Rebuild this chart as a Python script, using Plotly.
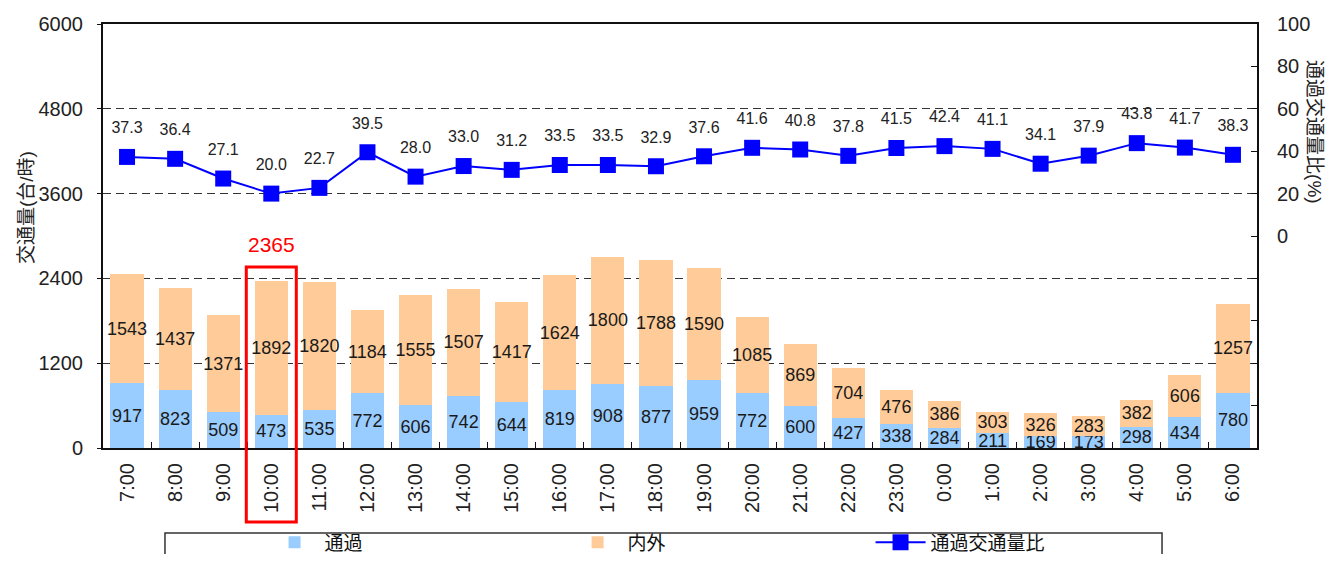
import plotly.graph_objects as go

# data
hours = ["7:00", "8:00", "9:00", "10:00", "11:00", "12:00", "13:00", "14:00",
         "15:00", "16:00", "17:00", "18:00", "19:00", "20:00", "21:00", "22:00",
         "23:00", "0:00", "1:00", "2:00", "3:00", "4:00", "5:00", "6:00"]
through = [917, 823, 509, 473, 535, 772, 606, 742, 644, 819, 908, 877,
           959, 772, 600, 427, 338, 284, 211, 169, 173, 298, 434, 780]
inout = [1543, 1437, 1371, 1892, 1820, 1184, 1555, 1507, 1417, 1624, 1800, 1788,
         1590, 1085, 869, 704, 476, 386, 303, 326, 283, 382, 606, 1257]
ratio = [37.3, 36.4, 27.1, 20.0, 22.7, 39.5, 28.0, 33.0, 31.2, 33.5, 33.5, 32.9,
         37.6, 41.6, 40.8, 37.8, 41.5, 42.4, 41.1, 34.1, 37.9, 43.8, 41.7, 38.3]

highlight = "10:00"
hi_idx = hours.index(highlight)
hi_total = through[hi_idx] + inout[hi_idx]

FONT = "Liberation Sans, Noto Sans CJK JP, sans-serif"
BLUE_BAR = "#99CCFF"
ORANGE_BAR = "#FFCC99"

fig = go.Figure()

fig.add_trace(go.Bar(
    name="通過",
    x=hours, y=through,
    marker=dict(color=BLUE_BAR, line=dict(width=0)),
    text=[str(v) for v in through],
    textposition="inside",
    insidetextanchor="middle",
    constraintext="none",
    textangle=0,
    textfont=dict(family=FONT, size=18, color="#1a1a1a"),
))
fig.add_trace(go.Bar(
    name="内外",
    x=hours, y=inout,
    marker=dict(color=ORANGE_BAR, line=dict(width=0)),
    text=[str(v) for v in inout],
    textposition="inside",
    insidetextanchor="middle",
    constraintext="none",
    textangle=0,
    textfont=dict(family=FONT, size=18, color="#1a1a1a"),
))
fig.add_trace(go.Scatter(
    name="通過交通量比",
    x=hours, y=ratio,
    yaxis="y2",
    mode="lines+markers",
    line=dict(color="#0000FF", width=2),
    marker=dict(symbol="square", size=16, color="#0000FF"),
))
# value labels for the ratio line (transparent marker keeps them a bit higher)
fig.add_trace(go.Scatter(
    x=hours, y=ratio,
    yaxis="y2",
    mode="markers+text",
    marker=dict(size=30, color="rgba(0,0,0,0)"),
    text=[f"{v:.1f}" for v in ratio],
    textposition="top center",
    textfont=dict(family=FONT, size=16, color="#222222"),
    cliponaxis=False,
    showlegend=False,
    hoverinfo="skip",
))

# highlight box around 10:00 and its total
fig.add_shape(type="rect", xref="x", yref="paper",
              x0=hi_idx - 0.52, x1=hi_idx + 0.52, y0=-0.1745, y1=0.427,
              line=dict(color="#FF0000", width=3))
fig.add_annotation(x=highlight, y=hi_total, text=str(hi_total),
                   showarrow=False, yanchor="bottom", yshift=23,
                   font=dict(family=FONT, size=21, color="#FF0000"))

# legend frame (runs off the bottom edge)
fig.add_shape(type="path", xref="paper", yref="paper",
              path="M 0.0537,-0.25 L 0.0537,-0.2005 L 0.9177,-0.2005 L 0.9177,-0.25",
              line=dict(color="#333333", width=1.5))

# axis titles
fig.add_annotation(xref="paper", yref="paper", x=-0.0667, y=0.566,
                   xanchor="center", yanchor="middle",
                   text="交通量(台/時)", textangle=-90, showarrow=False,
                   font=dict(family=FONT, size=19, color="#222222"))
fig.add_annotation(xref="paper", yref="paper", x=1.0503, y=0.745,
                   xanchor="center", yanchor="middle",
                   text="通過交通量比(%)", textangle=90, showarrow=False,
                   font=dict(family=FONT, size=19, color="#222222"))

right_ticks = list(range(-100, 101, 20))
right_text = [str(v) if v >= 0 else "" for v in right_ticks]

fig.update_layout(
    width=1318, height=546,
    margin=dict(l=95, r=69, t=16, b=106, autoexpand=False),
    paper_bgcolor="white", plot_bgcolor="white",
    barmode="stack", bargap=0.31,
    font=dict(family=FONT, size=20, color="#222222"),
    showlegend=True,
    legend=dict(orientation="h", x=0.140, y=0.056, yref="container",
                xanchor="left", yanchor="top",
                entrywidth=238, entrywidthmode="pixels", itemwidth=50,
                font=dict(family=FONT, size=19, color="#111111"),
                traceorder="normal", bgcolor="rgba(0,0,0,0)"),
    xaxis=dict(
        type="category", range=[-0.5, len(hours) - 0.5],
        showline=True, linecolor="#111111", linewidth=2,
        mirror=True, ticks="inside", tickson="boundaries", ticklen=6,
        tickcolor="#111111", tickangle=-90, showgrid=False, automargin=False,
        ticklabelstandoff=5,
        tickfont=dict(family=FONT, size=20, color="#222222"),
    ),
    yaxis=dict(
        range=[0, 6000], tickvals=[0, 1200, 2400, 3600, 4800, 6000],
        showline=True, linecolor="#111111", linewidth=2,
        ticks="outside", ticklen=4, tickcolor="#111111", automargin=False,
        showgrid=True, gridcolor="#333333", gridwidth=1.3, griddash="8px,5px",
        zeroline=False, ticklabelstandoff=10,
        tickfont=dict(family=FONT, size=20, color="#222222"),
    ),
    yaxis2=dict(
        range=[-100, 100], tickvals=right_ticks, ticktext=right_text,
        overlaying="y", side="right", showline=True, linecolor="#111111",
        linewidth=2, ticks="inside", ticklen=6, tickcolor="#111111",
        showgrid=False, zeroline=False, ticklabelstandoff=14, automargin=False,
        tickfont=dict(family=FONT, size=20, color="#222222"),
    ),
)

fig.write_html("out.html")
